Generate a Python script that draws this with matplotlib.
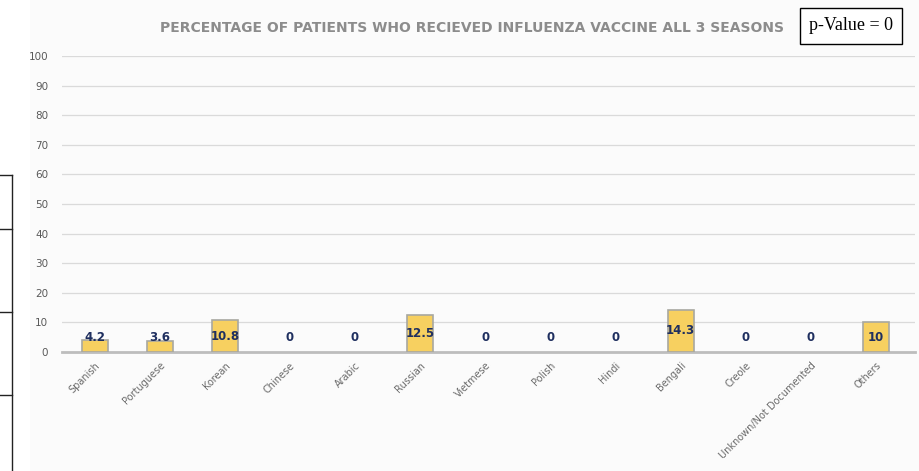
import matplotlib.pyplot as plt
from matplotlib.patches import Rectangle
from matplotlib.lines import Line2D

# datos
idiomas = ['Spanish', 'Portuguese', 'Korean', 'Chinese', 'Arabic', 'Russian',
           'Vietmese', 'Polish', 'Hindi', 'Bengali', 'Creole',
           'Unknown/Not Documented', 'Others']
porcentajes = [4.2, 3.6, 10.8, 0, 0, 12.5, 0, 0, 0, 14.3, 0, 0, 10]
etiquetas = ['4.2', '3.6', '10.8', '0', '0', '12.5', '0', '0', '0', '14.3', '0', '0', '10']
yticks = list(range(0, 101, 10))

fig = plt.figure(figsize=(9.2, 4.71), dpi=100)
fig.patch.set_facecolor('white')

# panel de fondo levemente gris
fig.patches.append(Rectangle((30/920, 0), 1 - 30/920, 1, transform=fig.transFigure,
                             facecolor='#FBFBFB', edgecolor='none', zorder=-10))

# restos de tabla a la izquierda
W, H = 920, 471
fig.add_artist(Line2D([12/W, 12/W], [0, 1 - 175/H], color='#222222', lw=1))
for yy in [175, 229, 312, 395]:
    fig.add_artist(Line2D([0, 12/W], [1 - yy/H, 1 - yy/H], color='#222222', lw=1))

ax = fig.add_axes([62/W, 1 - 352/H, (915 - 62)/W, (352 - 56)/H])
ax.set_facecolor('none')

x = range(len(idiomas))
bordes = [1.2 if v > 0 else 0 for v in porcentajes]
ax.bar(x, porcentajes, width=0.4, color='#F7D060', edgecolor='#A8A8A0', linewidth=bordes, zorder=3)

for i, (v, t) in enumerate(zip(porcentajes, etiquetas)):
    ax.text(i, max(v / 2, 4.8), t, ha='center', va='center', fontsize=8.5,
            fontweight='bold', color='#1F2F5F', zorder=4)

ax.set_ylim(0, 100)
ax.set_xlim(-0.5, 12.6)
ax.set_yticks(yticks)
ax.yaxis.grid(True, color='#DADADA', lw=0.9, zorder=0)
ax.set_axisbelow(True)
for s in ['top', 'right', 'left']:
    ax.spines[s].set_visible(False)
ax.spines['bottom'].set_color('#BDBDBD')
ax.spines['bottom'].set_linewidth(2)
ax.tick_params(axis='y', length=0, labelsize=7.5, labelcolor='#595959', pad=10)
ax.tick_params(axis='x', length=0, labelsize=7, labelcolor='#6A6A6A', pad=6)
ax.set_xticks(list(x))
ax.set_xticklabels(idiomas, rotation=45, ha='right', rotation_mode='anchor')

fig.text(472/W, 1 - 28/H, 'PERCENTAGE OF PATIENTS WHO RECIEVED INFLUENZA VACCINE ALL 3 SEASONS',
         ha='center', va='center', fontsize=10, fontweight='bold', color='#8C8C8C')

fig.text(851/W, 1 - 26/H, 'p-Value = 0', ha='center', va='center', fontsize=13,
         family='Liberation Serif', color='black',
         bbox=dict(boxstyle='square,pad=0.5', facecolor='white', edgecolor='black', lw=1))

fig.savefig('out.png', dpi=100)
